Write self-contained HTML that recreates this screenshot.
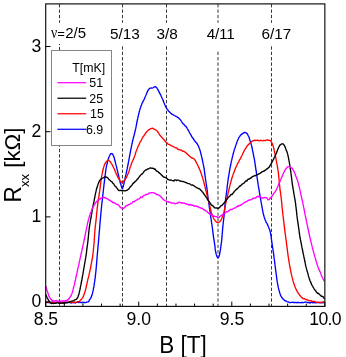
<!DOCTYPE html><html><head><meta charset="utf-8"><style>html,body{margin:0;padding:0;background:#fff}svg{display:block;will-change:transform}text{font-family:"Liberation Sans",sans-serif;fill:#000}</style></head><body>
<svg width="346" height="357" viewBox="0 0 346 357">
<rect width="346" height="357" fill="#fff"/>
<line x1="59.5" y1="4.1" x2="59.5" y2="22.8" stroke="#383838" stroke-width="1.0" stroke-dasharray="3.35 2.0125"/>
<line x1="59.5" y1="46.93" x2="59.5" y2="306" stroke="#383838" stroke-width="1.0" stroke-dasharray="3.35 2.0125"/>
<line x1="122.5" y1="4.1" x2="122.5" y2="22.8" stroke="#383838" stroke-width="1.0" stroke-dasharray="3.35 2.0125"/>
<line x1="122.5" y1="46.33" x2="122.5" y2="306" stroke="#383838" stroke-width="1.0" stroke-dasharray="3.35 2.0125"/>
<line x1="166.5" y1="4.1" x2="166.5" y2="22.8" stroke="#383838" stroke-width="1.0" stroke-dasharray="3.35 2.0125"/>
<line x1="166.5" y1="46.33" x2="166.5" y2="306" stroke="#383838" stroke-width="1.0" stroke-dasharray="3.35 2.0125"/>
<line x1="218.0" y1="4.1" x2="218.0" y2="22.8" stroke="#383838" stroke-width="1.0" stroke-dasharray="3.35 2.0125"/>
<line x1="218.0" y1="51.69" x2="218.0" y2="306" stroke="#383838" stroke-width="1.0" stroke-dasharray="3.35 2.0125"/>
<line x1="271.5" y1="4.1" x2="271.5" y2="22.8" stroke="#383838" stroke-width="1.0" stroke-dasharray="3.35 2.0125"/>
<line x1="271.5" y1="46.33" x2="271.5" y2="306" stroke="#383838" stroke-width="1.0" stroke-dasharray="3.35 2.0125"/>
<line x1="59.5" y1="44.0" x2="59.5" y2="45.0" stroke="#2a2a2a" stroke-width="1"/>
<path d="M45.9 302.3L46.3 302.3L46.7 302.2L47.2 302.5L47.7 302.3L48.2 302.5L48.8 302.5L49.4 302.6L50.1 302.5L50.8 302.4L51.5 302.4L52.2 302.2L52.9 302.2L53.7 302.7L54.5 302.4L55.3 302.6L56.1 302.6L56.9 302.3L57.7 302.4L58.6 302.5L59.4 302.4L60.3 302.3L61.1 302.6L61.9 302.8L62.7 302.5L63.5 302.6L64.3 302.4L65.1 302.5L65.9 302.2L66.6 302.6L67.4 302.9L68.1 302.7L68.7 302.4L69.4 302.2L70.0 302.6L70.8 302.8L71.7 302.9L72.5 302.6L73.3 302.3L74.2 302.8L75.0 302.8L75.8 302.8L76.6 302.2L77.3 302.2L78.1 302.3L78.8 302.5L79.6 302.2L80.3 302.4L81.0 302.5L81.6 302.4L82.3 302.5L82.9 302.3L83.5 302.5L84.1 302.3L84.6 302.5L85.1 302.6L85.6 302.6L86.1 302.5L86.5 302.1L88.0 301.8L88.7 301.4L89.0 301.2L89.1 300.4L89.4 299.9L89.8 299.5L90.2 299.0L90.5 298.5L90.8 297.9L91.2 297.2L91.5 296.3L91.7 295.9L91.9 295.3L92.0 294.8L92.2 294.2L92.4 293.7L92.6 292.9L92.7 292.1L92.9 291.4L93.1 290.7L93.2 289.9L93.4 289.2L93.5 288.6L93.6 287.9L93.7 287.3L93.9 286.7L94.0 286.1L94.1 285.3L94.2 284.6L94.3 283.9L94.4 283.2L94.5 282.5L94.6 281.9L94.7 281.2L94.8 280.4L94.9 279.7L95.0 279.0L95.1 278.3L95.2 277.6L95.3 277.0L95.3 276.3L95.4 275.7L95.5 275.0L95.6 274.3L95.6 273.6L95.7 272.9L95.8 272.2L95.9 271.6L95.9 270.9L96.0 270.2L96.1 269.4L96.1 268.8L96.2 268.0L96.3 267.3L96.3 266.6L96.4 265.9L96.4 265.3L96.5 264.6L96.6 263.8L96.6 263.1L96.7 262.5L96.7 261.7L96.8 261.0L96.8 260.3L96.9 259.6L97.0 258.8L97.0 258.1L97.1 257.4L97.1 256.7L97.2 256.0L97.3 255.3L97.3 254.7L97.4 254.0L97.4 253.3L97.5 252.6L97.6 251.9L97.6 251.2L97.7 250.5L97.7 249.9L97.8 249.2L97.9 248.5L97.9 247.8L98.0 247.1L98.1 246.4L98.1 245.7L98.2 245.0L98.2 244.3L98.3 243.6L98.4 242.9L98.4 242.3L98.5 241.6L98.5 240.9L98.6 240.2L98.6 239.5L98.7 238.9L98.8 238.2L98.8 237.5L98.9 236.8L98.9 236.1L99.0 235.4L99.1 234.7L99.1 234.0L99.2 233.3L99.2 232.7L99.3 232.0L99.3 231.3L99.4 230.6L99.5 229.9L99.5 229.2L99.6 228.5L99.6 227.9L99.7 227.1L99.7 226.4L99.8 225.7L99.9 225.1L99.9 224.4L100.0 223.6L100.0 222.9L100.1 222.3L100.2 221.6L100.2 220.9L100.3 220.3L100.3 219.6L100.4 218.9L100.4 218.3L100.5 217.6L100.6 216.9L100.6 216.2L100.7 215.5L100.8 214.8L100.8 214.1L100.9 213.5L100.9 212.7L101.0 212.1L101.1 211.4L101.1 210.8L101.2 210.1L101.3 209.4L101.3 208.8L101.4 208.1L101.5 207.4L101.5 206.7L101.6 206.0L101.7 205.3L101.7 204.7L101.8 204.0L101.9 203.3L102.0 202.6L102.0 201.9L102.1 201.3L102.2 200.6L102.3 199.9L102.4 199.2L102.4 198.5L102.5 197.8L102.6 197.1L102.7 196.4L102.8 195.7L102.8 194.9L102.9 194.3L103.0 193.6L103.1 192.9L103.2 192.2L103.2 191.5L103.3 190.8L103.4 190.2L103.5 189.4L103.5 188.8L103.6 188.1L103.7 187.4L103.8 186.7L103.9 186.0L103.9 185.3L104.0 184.6L104.1 183.9L104.2 183.3L104.3 182.6L104.3 181.9L104.4 181.3L104.5 180.6L104.6 179.9L104.7 179.1L104.8 178.4L104.9 177.7L104.9 177.0L105.0 176.3L105.1 175.5L105.2 174.8L105.3 174.1L105.4 173.4L105.5 172.7L105.6 172.1L105.6 171.4L105.7 170.8L105.8 170.2L105.9 169.6L106.0 168.9L106.1 168.1L106.3 167.3L106.4 166.6L106.6 165.8L106.7 165.1L106.9 164.5L107.0 163.8L107.2 163.3L107.3 162.7L107.5 162.1L107.6 161.5L107.8 160.7L108.0 160.0L108.2 159.4L108.4 158.6L108.6 158.0L108.8 157.4L109.1 156.8L109.3 156.2L109.7 155.5L110.1 154.7L110.6 153.9L111.1 153.6L111.5 153.7L111.9 153.5L112.4 153.8L112.9 154.7L113.3 155.6L113.7 156.4L113.9 157.1L114.1 157.5L114.3 158.2L114.5 158.9L114.6 159.5L114.8 160.2L115.0 160.9L115.2 161.8L115.4 162.5L115.5 163.0L115.7 163.7L115.9 164.2L116.0 164.9L116.2 165.6L116.3 166.2L116.5 166.8L116.7 167.5L116.8 168.2L117.0 168.9L117.2 169.6L117.3 170.3L117.5 171.1L117.7 171.7L117.8 172.4L118.0 173.0L118.1 173.8L118.3 174.5L118.5 175.4L118.6 176.0L118.8 176.7L119.0 177.5L119.1 178.1L119.3 178.9L119.4 179.4L119.6 180.1L119.7 180.6L120.0 181.6L120.2 182.5L120.4 183.3L120.6 183.8L120.8 184.4L121.0 185.0L121.2 185.6L121.5 186.7L121.8 187.6L122.0 188.2L122.3 188.5L122.6 188.4L122.8 187.6L123.1 186.7L123.4 185.6L123.5 185.2L123.7 184.7L123.8 184.2L124.0 183.5L124.1 182.8L124.3 182.1L124.4 181.4L124.6 180.7L124.8 179.9L124.9 179.3L125.1 178.6L125.2 178.0L125.3 177.3L125.5 176.6L125.6 176.0L125.8 175.2L126.0 174.4L126.1 173.8L126.3 173.1L126.4 172.3L126.6 171.6L126.7 170.8L126.9 170.1L127.0 169.5L127.2 168.7L127.3 168.0L127.4 167.4L127.6 166.7L127.7 166.0L127.9 165.3L128.0 164.6L128.1 164.0L128.3 163.3L128.4 162.6L128.5 162.0L128.7 161.2L128.8 160.6L128.9 159.8L129.0 159.2L129.2 158.6L129.3 157.9L129.4 157.2L129.5 156.5L129.7 155.8L129.8 155.1L129.9 154.4L130.0 153.7L130.2 153.0L130.3 152.4L130.4 151.7L130.6 151.0L130.7 150.3L130.8 149.6L131.0 149.0L131.1 148.2L131.2 147.5L131.4 146.9L131.5 146.3L131.6 145.6L131.8 144.9L131.9 144.2L132.1 143.5L132.2 142.9L132.4 142.2L132.5 141.5L132.7 140.8L132.8 140.0L133.0 139.4L133.1 138.8L133.3 138.2L133.5 137.5L133.6 136.9L133.8 136.3L134.0 135.7L134.2 135.0L134.3 134.3L134.5 133.6L134.7 132.8L134.9 132.3L135.0 131.4L135.2 130.8L135.3 130.1L135.5 129.5L135.6 128.9L135.8 128.2L135.9 127.5L136.1 126.7L136.2 126.0L136.3 125.3L136.5 124.5L136.6 123.8L136.8 123.0L136.9 122.3L137.1 121.6L137.2 120.9L137.3 120.2L137.5 119.5L137.6 118.9L137.8 118.2L137.9 117.5L138.1 116.7L138.3 116.1L138.4 115.4L138.6 114.6L138.7 114.0L138.9 113.2L139.1 112.6L139.2 112.1L139.4 111.5L139.5 110.9L139.7 110.2L139.9 109.4L140.1 108.8L140.4 108.1L140.6 107.4L140.8 106.7L141.0 106.1L141.2 105.6L141.5 104.9L141.7 104.3L141.9 103.9L142.2 103.1L142.5 102.4L142.8 102.0L143.2 101.2L143.5 100.7L143.8 100.1L144.1 99.4L144.4 98.9L144.6 98.4L144.9 97.6L145.1 97.0L145.4 96.5L145.7 95.8L145.9 95.1L146.2 94.5L146.5 93.7L146.8 92.9L147.2 92.4L147.5 91.6L147.8 90.8L148.1 90.3L148.4 89.8L148.9 89.1L149.3 88.5L149.8 88.3L150.5 88.2L151.2 87.9L152.0 88.1L152.8 87.8L153.5 87.5L154.2 86.9L154.9 86.7L155.6 86.9L156.1 87.2L156.6 87.7L157.1 88.4L157.4 88.8L157.8 89.4L158.1 90.2L158.5 90.9L158.8 91.4L159.2 92.1L159.5 92.9L159.8 93.5L160.1 93.9L160.5 94.6L160.8 95.3L161.1 95.9L161.4 96.6L161.7 97.2L162.0 97.9L162.2 98.4L162.5 99.1L162.8 99.7L163.1 100.3L163.3 101.1L163.6 101.7L163.9 102.5L164.1 102.9L164.4 103.6L164.6 104.2L164.9 104.9L165.2 105.6L165.4 106.0L165.7 106.7L166.1 107.4L166.4 108.1L166.7 108.5L167.1 108.9L167.5 109.6L167.9 110.1L168.3 110.8L168.8 111.3L169.3 111.7L169.8 112.4L170.3 112.8L170.8 113.2L171.4 113.8L171.9 114.3L172.5 114.3L173.1 114.7L173.7 115.2L174.3 115.5L175.0 115.8L175.7 116.1L176.4 116.7L177.0 116.8L177.6 117.4L178.2 117.6L178.8 118.2L179.4 118.8L179.8 119.2L180.2 119.7L180.6 120.2L181.0 120.7L181.5 121.5L181.9 122.1L182.4 123.0L182.8 123.5L183.3 123.9L183.8 124.3L184.3 124.9L184.7 125.5L185.2 125.9L185.7 126.1L186.1 126.8L186.5 127.2L186.9 127.9L187.2 128.5L187.6 129.1L187.9 129.7L188.3 130.3L188.6 130.8L189.0 131.5L189.4 132.2L189.7 133.0L190.1 133.6L190.4 134.2L190.8 134.7L191.2 135.4L191.5 136.2L191.9 136.8L192.3 137.5L192.7 137.9L193.1 138.6L193.6 139.1L194.0 139.9L194.4 140.6L194.8 141.0L195.2 141.6L195.7 142.0L196.1 142.5L196.5 142.8L196.9 143.6L197.3 144.0L197.7 144.9L198.0 145.3L198.3 145.5L198.6 146.4L198.8 147.0L199.1 147.6L199.3 148.4L199.6 149.1L199.8 149.7L200.0 150.3L200.2 150.9L200.4 151.6L200.5 152.3L200.7 153.0L200.9 153.6L201.1 154.4L201.2 155.0L201.4 155.7L201.6 156.3L201.7 156.9L201.9 157.7L202.0 158.5L202.2 159.1L202.3 159.8L202.5 160.4L202.6 161.1L202.8 161.8L202.9 162.6L203.0 163.2L203.2 163.8L203.3 164.5L203.4 165.1L203.6 165.7L203.7 166.4L203.8 167.0L204.0 167.8L204.1 168.7L204.2 169.3L204.3 169.9L204.4 170.5L204.5 171.1L204.5 171.8L204.6 172.4L204.7 173.2L204.8 173.9L204.9 174.6L205.0 175.3L205.1 176.0L205.2 176.7L205.3 177.4L205.4 178.2L205.5 178.8L205.6 179.5L205.7 180.2L205.8 180.8L205.9 181.5L206.0 182.1L206.1 182.9L206.2 183.5L206.3 184.2L206.4 184.9L206.5 185.6L206.6 186.3L206.7 187.0L206.8 187.7L206.9 188.3L207.0 188.9L207.1 189.6L207.2 190.3L207.3 191.0L207.3 191.8L207.4 192.5L207.5 193.1L207.6 193.8L207.6 194.5L207.7 195.1L207.8 195.8L207.9 196.4L207.9 197.0L208.0 197.6L208.1 198.4L208.2 199.1L208.3 199.8L208.4 200.3L208.5 201.0L208.6 201.6L208.7 202.3L208.8 203.1L208.9 204.1L209.0 204.6L209.1 205.2L209.2 205.8L209.3 206.5L209.3 207.2L209.4 207.9L209.5 208.6L209.7 209.3L209.8 210.0L209.9 210.7L210.0 211.5L210.1 212.3L210.2 213.0L210.3 213.7L210.4 214.5L210.5 215.2L210.6 215.9L210.7 216.5L210.8 217.2L210.9 217.8L211.0 218.5L211.1 219.2L211.2 219.9L211.3 220.6L211.4 221.3L211.5 222.0L211.6 222.6L211.7 223.3L211.8 224.0L211.9 224.7L212.0 225.4L212.1 226.1L212.2 226.8L212.3 227.5L212.4 228.1L212.5 228.9L212.6 229.6L212.7 230.3L212.7 231.0L212.8 231.7L212.9 232.4L213.0 233.1L213.1 233.8L213.2 234.4L213.3 235.1L213.3 235.7L213.4 236.3L213.5 236.9L213.6 237.7L213.7 238.5L213.9 239.3L214.0 240.0L214.1 240.6L214.2 241.2L214.3 241.9L214.4 242.5L214.5 243.2L214.6 243.9L214.7 244.6L214.8 245.3L214.9 246.0L215.0 246.8L215.1 247.5L215.1 248.2L215.2 248.9L215.3 249.5L215.4 250.2L215.5 250.8L215.6 251.6L215.8 252.4L215.9 253.0L216.1 253.7L216.3 254.3L216.4 254.9L216.6 255.5L216.9 256.3L217.2 257.1L217.6 257.5L217.9 257.7L218.2 257.6L218.6 257.1L219.0 256.4L219.3 255.3L219.5 254.9L219.6 254.3L219.7 253.5L219.9 252.8L220.0 252.1L220.1 251.2L220.3 250.5L220.4 249.7L220.5 249.1L220.6 248.4L220.7 247.6L220.8 247.0L220.9 246.2L221.0 245.4L221.1 244.7L221.2 244.0L221.3 243.4L221.4 242.7L221.5 242.0L221.6 241.3L221.6 240.7L221.7 240.0L221.8 239.4L221.8 238.7L221.9 237.9L222.0 236.9L222.0 236.3L222.1 235.8L222.1 235.2L222.2 234.5L222.2 233.9L222.3 233.2L222.4 232.5L222.4 231.8L222.5 231.1L222.5 230.3L222.6 229.6L222.6 228.9L222.7 228.2L222.8 227.4L222.8 226.7L222.9 226.0L223.0 225.3L223.0 224.7L223.1 224.0L223.2 223.3L223.3 222.6L223.3 222.0L223.4 221.2L223.5 220.6L223.6 219.9L223.7 219.2L223.8 218.5L223.8 217.8L223.9 217.2L224.0 216.4L224.1 215.8L224.1 215.1L224.2 214.5L224.3 213.8L224.3 213.0L224.4 212.3L224.5 211.5L224.5 210.8L224.6 210.1L224.7 209.3L224.7 208.6L224.8 207.9L224.8 207.2L224.9 206.5L224.9 205.9L225.0 205.2L225.0 204.6L225.1 204.0L225.2 203.2L225.3 202.3L225.4 201.6L225.4 200.9L225.5 200.1L225.6 199.5L225.7 198.9L225.7 198.2L225.8 197.6L225.9 197.0L226.0 196.3L226.1 195.6L226.2 195.0L226.3 194.4L226.4 193.7L226.5 193.0L226.6 192.0L226.7 191.4L226.7 190.8L226.8 190.2L226.9 189.5L227.0 188.8L227.1 188.1L227.1 187.3L227.2 186.6L227.3 185.8L227.4 185.0L227.5 184.3L227.6 183.5L227.7 182.7L227.8 182.0L227.9 181.3L228.0 180.6L228.1 179.9L228.2 179.2L228.3 178.5L228.4 177.7L228.5 177.0L228.6 176.3L228.7 175.7L228.9 174.9L229.0 174.2L229.1 173.6L229.2 172.9L229.3 172.3L229.4 171.6L229.5 170.8L229.7 170.1L229.8 169.3L229.9 168.6L230.1 167.8L230.2 167.2L230.4 166.5L230.5 165.8L230.6 165.2L230.8 164.5L230.9 163.9L231.0 163.3L231.2 162.4L231.3 161.6L231.5 160.9L231.7 160.2L231.8 159.6L232.0 159.0L232.1 158.3L232.3 157.4L232.5 156.8L232.6 156.1L232.8 155.4L233.0 154.6L233.2 154.0L233.3 153.4L233.5 152.7L233.7 152.1L233.9 151.3L234.1 150.7L234.3 149.9L234.5 149.3L234.7 148.8L234.9 148.1L235.1 147.4L235.3 146.9L235.5 146.2L235.7 145.6L235.9 144.9L236.2 144.3L236.4 143.7L236.6 143.1L236.8 142.5L237.1 141.7L237.3 141.1L237.6 140.4L237.9 139.8L238.1 139.2L238.4 138.6L238.8 137.7L239.2 137.2L239.6 136.6L240.0 136.0L240.5 135.3L241.0 134.8L241.5 134.2L242.1 134.0L242.6 133.6L243.2 133.2L243.8 132.9L244.3 132.4L244.9 132.4L245.7 132.7L246.4 133.1L246.9 133.4L247.3 133.9L247.8 134.8L248.1 135.5L248.4 136.0L248.7 136.4L248.9 137.0L249.2 137.6L249.4 138.3L249.6 139.1L249.8 139.7L250.0 140.4L250.2 141.0L250.4 141.6L250.6 142.4L250.8 142.9L251.0 143.6L251.1 144.2L251.3 144.8L251.5 145.4L251.6 146.0L251.8 146.7L251.9 147.3L252.1 148.0L252.2 148.6L252.4 149.3L252.5 150.0L252.6 150.7L252.8 151.4L252.9 152.1L253.1 152.8L253.2 153.6L253.4 154.3L253.5 155.0L253.6 155.8L253.8 156.4L253.9 157.1L254.1 157.9L254.2 158.6L254.4 159.3L254.5 160.0L254.6 160.6L254.7 161.3L254.8 161.9L254.9 162.6L255.0 163.2L255.1 163.9L255.2 164.6L255.3 165.3L255.4 166.1L255.5 166.8L255.6 167.4L255.7 168.1L255.8 168.8L255.9 169.6L256.0 170.3L256.2 171.0L256.3 171.8L256.4 172.5L256.5 173.2L256.6 174.0L256.7 174.7L256.8 175.3L256.9 176.0L257.0 176.7L257.1 177.4L257.2 178.1L257.3 178.8L257.4 179.5L257.5 180.1L257.6 180.8L257.7 181.5L257.8 182.2L257.9 182.9L258.0 183.6L258.1 184.1L258.2 184.9L258.3 185.5L258.4 186.2L258.5 186.9L258.6 187.5L258.8 188.2L258.9 188.9L259.0 189.6L259.1 190.2L259.2 190.8L259.3 191.6L259.4 192.2L259.5 192.9L259.7 193.6L259.8 194.3L259.9 194.9L260.0 195.6L260.1 196.3L260.2 197.0L260.4 197.7L260.5 198.3L260.6 199.0L260.7 199.6L260.8 200.3L261.0 201.1L261.1 201.8L261.2 202.5L261.3 203.2L261.5 204.0L261.6 204.6L261.7 205.4L261.8 206.1L262.0 206.8L262.1 207.4L262.2 208.2L262.4 208.9L262.5 209.6L262.6 210.4L262.7 211.1L262.9 211.8L263.0 212.4L263.1 213.1L263.3 213.8L263.4 214.3L263.6 214.9L263.8 215.8L264.0 216.4L264.2 217.2L264.5 217.8L264.7 218.5L264.9 219.2L265.2 219.8L265.4 220.4L265.7 221.0L266.0 221.8L266.3 222.3L266.6 223.0L267.0 223.6L267.3 224.1L267.6 224.9L267.9 225.5L268.2 226.1L268.5 227.0L268.8 227.6L269.0 228.2L269.3 228.8L269.5 229.6L269.8 230.3L270.0 231.1L270.2 231.8L270.4 232.5L270.5 233.1L270.6 233.8L270.8 234.5L270.9 235.2L271.0 236.0L271.1 236.7L271.2 237.5L271.3 238.1L271.4 238.8L271.5 239.5L271.6 240.3L271.7 241.0L271.8 241.7L271.9 242.5L272.0 243.2L272.1 244.0L272.2 244.7L272.3 245.4L272.4 246.2L272.5 246.9L272.6 247.6L272.8 248.3L272.9 249.0L273.0 249.8L273.1 250.5L273.2 251.2L273.3 251.9L273.4 252.6L273.5 253.3L273.6 253.9L273.7 254.6L273.8 255.3L273.9 255.9L273.9 256.5L274.0 257.2L274.1 257.8L274.2 258.5L274.3 259.2L274.4 259.9L274.5 260.5L274.5 261.1L274.6 261.8L274.7 262.5L274.8 263.2L274.9 263.9L275.0 264.7L275.1 265.3L275.2 266.0L275.3 266.7L275.3 267.4L275.4 268.1L275.5 268.9L275.6 269.6L275.7 270.3L275.8 271.1L275.9 271.9L276.0 272.6L276.1 273.3L276.2 273.9L276.3 274.6L276.4 275.3L276.5 276.0L276.5 276.7L276.6 277.4L276.7 278.1L276.8 278.7L276.9 279.4L277.0 280.1L277.1 280.7L277.2 281.4L277.3 282.0L277.4 282.8L277.6 283.6L277.7 284.3L277.8 285.1L278.0 285.7L278.1 286.5L278.2 287.2L278.4 287.9L278.5 288.5L278.7 289.2L278.9 289.9L279.1 290.6L279.3 291.2L279.5 291.9L279.7 292.6L279.9 293.3L280.1 293.9L280.3 294.5L280.5 295.1L280.8 295.7L281.1 296.4L281.5 296.8L281.8 297.5L282.2 298.0L282.6 298.4L283.1 299.2L283.7 299.4L284.3 300.1L284.9 300.7L285.5 301.0L286.1 301.0L286.8 301.6L287.5 301.8L288.2 301.8L289.1 302.4L289.7 302.5L290.2 302.6L290.7 302.6L291.3 302.5L291.9 302.2L292.7 302.3L293.7 302.5L294.9 302.4L295.4 302.5L295.9 302.6L296.5 302.7L297.1 302.3L297.7 302.7L298.4 302.4L299.0 302.5L299.7 302.6L300.4 302.7L301.2 302.7L301.9 302.4L302.7 302.5L303.4 302.6L304.2 302.3L304.9 302.0L305.7 302.1L306.4 302.1L307.2 302.3L307.9 302.8L308.6 302.5L309.3 302.7L310.0 303.1L310.7 302.7L311.5 302.4L312.2 302.4L313.0 302.8L313.8 302.6L314.6 302.6L315.4 302.8L316.2 302.8L317.0 302.5L317.8 302.5L318.5 302.6L319.3 302.7L320.0 302.8L320.7 302.7L321.4 302.4L322.0 302.9L322.6 302.6L323.1 302.4L323.6 302.7L324.0 302.6L324.4 302.3" fill="none" stroke="#0000ff" stroke-width="1.35" stroke-linejoin="round"/>
<path d="M45.9 302.1L46.3 301.9L46.7 301.9L47.2 302.0L47.8 302.3L48.4 302.2L49.0 302.2L49.7 302.6L50.4 302.6L51.2 302.7L51.9 302.1L52.7 302.6L53.5 302.4L54.3 302.8L55.2 302.7L56.0 302.4L56.8 302.3L57.6 302.4L58.4 302.3L59.2 302.5L60.0 301.7L60.7 302.0L61.4 302.1L62.1 302.6L62.9 302.3L63.6 302.5L64.4 302.4L65.2 302.9L66.0 302.7L66.8 302.4L67.6 302.3L68.4 301.9L69.2 302.1L70.0 302.0L70.7 302.5L71.5 302.7L72.2 302.2L72.9 302.3L73.6 302.4L74.2 302.2L74.8 302.2L75.3 302.5L75.8 302.6L76.3 302.3L77.7 301.7L78.5 301.7L79.0 301.6L79.3 301.5L79.6 301.2L80.0 300.9L80.4 300.4L80.9 299.7L81.3 299.4L81.7 299.0L82.0 298.6L82.4 297.9L82.8 297.3L83.1 296.8L83.3 296.3L83.6 295.6L83.8 295.0L84.1 294.4L84.3 293.7L84.6 293.1L84.8 292.3L85.1 291.5L85.3 290.5L85.5 290.1L85.6 289.4L85.8 288.9L85.9 288.3L86.1 287.6L86.2 287.0L86.4 286.3L86.5 285.5L86.7 284.8L86.8 284.1L87.0 283.4L87.1 282.8L87.3 282.1L87.4 281.4L87.6 280.7L87.7 280.0L87.9 279.2L88.1 278.6L88.2 277.9L88.4 277.4L88.6 276.7L88.7 275.9L88.9 275.2L89.1 274.4L89.2 273.6L89.4 273.0L89.6 272.4L89.7 271.7L89.9 271.1L90.0 270.4L90.2 269.6L90.3 269.0L90.5 268.3L90.6 267.5L90.8 266.8L90.9 266.0L91.0 265.3L91.2 264.6L91.3 263.7L91.5 263.0L91.6 262.2L91.7 261.6L91.8 261.0L91.9 260.4L92.0 259.9L92.1 259.4L92.2 259.0L92.4 257.9L92.5 257.6L92.6 257.2L92.7 256.0L92.8 255.5L92.8 255.1L92.9 254.5L92.9 253.9L93.0 253.3L93.1 252.7L93.2 251.9L93.2 251.2L93.3 250.5L93.4 249.7L93.5 248.9L93.6 248.2L93.6 247.4L93.7 246.6L93.8 245.8L93.9 245.0L93.9 244.3L94.0 243.6L94.1 242.9L94.1 242.3L94.2 241.6L94.2 240.9L94.3 240.2L94.3 239.5L94.3 238.9L94.4 238.2L94.4 237.5L94.5 236.8L94.5 236.1L94.5 235.4L94.6 234.7L94.6 234.0L94.7 233.4L94.7 232.6L94.8 232.0L94.8 231.3L94.9 230.7L95.0 229.9L95.0 229.2L95.1 228.5L95.2 227.8L95.2 227.2L95.3 226.4L95.4 225.7L95.5 225.1L95.5 224.3L95.6 223.6L95.7 223.0L95.8 222.3L95.9 221.6L95.9 220.9L96.0 220.3L96.1 219.6L96.2 218.9L96.2 218.3L96.3 217.6L96.4 216.9L96.4 216.2L96.5 215.5L96.6 214.8L96.6 214.1L96.7 213.5L96.8 212.8L96.8 212.2L96.9 211.5L97.0 210.9L97.0 210.2L97.1 209.6L97.2 208.9L97.2 208.2L97.3 207.4L97.4 206.7L97.5 206.0L97.6 205.3L97.7 204.7L97.8 204.1L97.8 203.4L97.9 202.7L98.0 202.0L98.1 201.4L98.2 200.7L98.3 200.0L98.4 199.3L98.5 198.6L98.6 198.0L98.8 197.2L98.9 196.5L99.0 195.7L99.1 195.0L99.2 194.3L99.3 193.6L99.4 192.8L99.5 192.1L99.6 191.4L99.7 190.7L99.8 190.1L99.9 189.4L100.0 188.7L100.1 187.9L100.2 187.1L100.3 186.4L100.4 185.7L100.4 185.0L100.5 184.2L100.6 183.5L100.7 182.7L100.8 182.1L100.9 181.3L101.0 180.6L101.1 179.9L101.2 179.2L101.3 178.6L101.4 178.0L101.5 177.4L101.6 176.7L101.7 176.2L101.9 175.3L102.0 174.4L102.2 173.7L102.3 172.9L102.5 172.2L102.6 171.5L102.8 170.8L102.9 170.1L103.0 169.7L103.2 169.1L103.3 168.4L103.5 167.9L103.6 167.3L103.8 166.7L104.1 165.9L104.3 165.2L104.6 164.5L104.9 163.9L105.2 163.4L105.4 162.8L105.7 162.4L106.0 162.2L106.6 161.5L107.1 160.9L107.7 160.3L108.2 160.3L108.7 159.9L109.2 160.7L109.7 161.2L110.3 161.8L110.6 162.3L111.0 162.7L111.3 163.3L111.7 164.0L112.1 164.7L112.5 165.5L112.8 166.2L113.2 166.9L113.5 167.3L113.8 168.0L114.1 168.6L114.4 169.3L114.7 170.0L114.9 170.6L115.2 171.4L115.5 172.2L115.8 172.8L116.1 173.6L116.4 174.2L116.7 174.7L117.1 175.3L117.4 176.1L117.7 177.0L118.0 177.4L118.4 178.0L118.7 178.4L119.0 179.0L119.5 179.7L120.0 180.6L120.5 181.4L120.9 181.7L121.4 181.9L121.9 182.7L122.5 182.3L123.0 181.6L123.6 181.4L124.2 180.5L124.8 179.7L125.1 179.4L125.5 178.9L125.8 178.3L126.1 177.8L126.5 177.1L126.8 176.5L127.2 175.7L127.5 174.8L127.9 174.2L128.2 173.4L128.4 172.6L128.7 172.1L128.9 171.4L129.1 170.9L129.3 170.1L129.6 169.2L129.8 168.6L130.0 167.8L130.2 167.1L130.5 166.5L130.7 165.8L130.9 165.3L131.1 164.7L131.3 164.1L131.6 163.1L131.9 162.5L132.2 161.7L132.5 161.1L132.8 160.4L133.1 159.9L133.4 159.4L133.7 158.9L134.0 157.8L134.2 157.3L134.4 156.8L134.6 156.1L134.9 155.4L135.1 154.8L135.3 154.1L135.5 153.4L135.7 152.8L135.9 152.0L136.1 151.3L136.4 150.7L136.6 150.2L136.9 149.4L137.2 148.7L137.4 148.1L137.7 147.3L138.0 146.4L138.4 145.8L138.7 145.4L139.0 144.8L139.2 144.0L139.5 143.4L139.8 142.8L140.1 142.1L140.5 141.4L140.8 141.0L141.1 140.6L141.4 140.0L141.7 139.3L142.0 138.7L142.4 138.0L142.8 137.4L143.1 136.8L143.5 136.2L143.9 135.9L144.3 135.1L144.7 134.7L145.1 133.8L145.6 133.2L146.0 132.8L146.5 132.1L147.0 131.6L147.5 130.9L148.1 130.5L148.6 129.9L149.1 129.4L149.7 129.3L150.2 129.0L150.9 128.6L151.6 128.5L152.3 128.2L152.9 128.4L153.6 128.9L154.2 129.1L154.9 129.4L155.5 129.9L156.1 130.1L156.7 130.7L157.3 131.1L157.7 132.0L158.2 132.2L158.6 133.0L159.1 133.8L159.5 134.7L160.0 135.2L160.4 135.8L160.8 136.2L161.3 136.6L161.7 137.3L162.2 137.8L162.6 138.3L163.1 138.8L163.5 139.5L163.9 139.6L164.4 140.0L164.8 140.6L165.2 141.3L165.6 141.7L166.1 142.4L166.6 142.7L167.1 143.1L167.7 143.8L168.3 144.3L168.9 144.3L169.5 144.8L170.1 144.9L170.8 145.4L171.4 145.8L172.0 146.1L172.7 146.2L173.3 146.6L174.0 147.0L174.7 147.4L175.3 147.8L176.0 147.9L176.7 147.8L177.3 148.9L178.0 149.3L178.6 149.5L179.3 149.6L179.9 150.0L180.6 150.1L181.2 149.9L181.8 150.5L182.4 151.1L183.0 151.5L183.6 151.1L184.2 151.4L184.8 152.0L185.4 152.4L186.0 152.8L186.5 153.4L187.0 153.7L187.6 154.4L188.1 154.8L188.6 155.2L189.1 155.7L189.6 156.2L190.0 156.5L190.5 156.9L191.2 157.5L191.8 158.1L192.5 158.0L193.0 158.3L193.6 158.7L194.1 158.8L194.6 159.7L195.1 160.2L195.5 160.7L195.8 161.4L196.2 162.2L196.5 162.9L196.8 163.2L197.0 163.8L197.3 164.3L197.7 165.1L197.9 165.5L198.2 166.0L198.4 166.7L198.7 167.5L199.0 167.9L199.3 168.7L199.6 169.5L199.9 170.1L200.2 170.8L200.5 171.5L200.7 172.2L200.9 172.8L201.2 173.4L201.4 174.1L201.6 174.7L201.8 175.3L202.0 175.9L202.3 176.7L202.5 177.5L202.7 178.1L202.9 178.9L203.1 179.5L203.3 180.2L203.5 180.8L203.7 181.5L203.8 182.2L204.0 182.8L204.2 183.5L204.4 184.2L204.5 185.0L204.7 185.6L204.8 186.2L205.0 186.9L205.2 187.6L205.3 188.3L205.5 188.8L205.7 189.7L205.8 190.3L206.0 191.0L206.2 191.6L206.4 192.4L206.5 193.1L206.7 193.7L206.9 194.5L207.1 195.2L207.2 195.7L207.4 196.4L207.5 197.1L207.7 197.7L207.9 198.3L208.1 199.1L208.3 199.8L208.5 200.4L208.6 200.9L208.8 201.7L209.0 202.4L209.2 203.1L209.3 203.8L209.5 204.4L209.7 205.1L209.8 205.9L210.0 206.7L210.1 207.3L210.3 208.1L210.4 208.8L210.6 209.4L210.8 210.2L210.9 211.0L211.1 211.7L211.3 212.3L211.5 212.9L211.8 213.7L212.0 214.3L212.2 214.9L212.5 215.5L212.7 216.1L213.0 216.8L213.2 217.3L213.6 218.2L213.9 218.8L214.3 219.5L214.7 219.8L215.0 220.3L215.4 220.9L216.0 221.5L216.5 222.1L217.1 222.4L217.6 222.4L218.3 222.3L219.0 222.2L219.7 221.8L220.1 221.1L220.4 220.9L220.8 220.2L221.2 219.6L221.5 219.0L221.9 218.1L222.1 217.6L222.3 217.0L222.6 216.3L222.8 215.6L223.0 215.2L223.3 214.5L223.5 213.9L223.7 213.1L223.9 212.4L224.1 211.6L224.2 211.1L224.4 210.4L224.5 209.7L224.7 209.0L224.8 208.3L224.9 207.5L225.1 206.9L225.2 206.2L225.3 205.4L225.4 204.8L225.6 204.2L225.7 203.5L225.8 202.9L226.0 202.2L226.1 201.3L226.3 200.7L226.5 200.2L226.6 199.4L226.8 198.8L226.9 198.3L227.1 197.7L227.2 197.0L227.4 196.3L227.5 195.6L227.7 194.8L227.9 194.3L228.0 193.6L228.2 192.7L228.4 191.9L228.5 191.4L228.7 190.8L228.8 190.1L229.0 189.3L229.2 188.8L229.3 188.1L229.5 187.2L229.6 186.5L229.8 186.0L230.0 185.1L230.2 184.4L230.3 183.8L230.5 183.2L230.7 182.6L230.8 182.0L231.0 181.3L231.2 180.6L231.4 180.0L231.6 179.1L231.8 178.6L232.0 178.1L232.2 177.3L232.4 176.6L232.6 176.0L232.9 175.3L233.1 174.6L233.3 173.8L233.6 173.2L233.8 172.5L234.1 172.0L234.3 171.3L234.6 170.5L234.9 169.9L235.2 169.1L235.4 168.5L235.7 167.8L236.0 167.1L236.4 166.3L236.7 165.8L237.0 165.1L237.2 164.4L237.5 163.9L237.8 163.4L238.2 162.7L238.5 162.2L238.9 161.7L239.2 160.6L239.5 159.9L239.8 159.7L240.1 159.1L240.4 158.7L240.8 157.9L241.1 157.1L241.4 156.7L241.7 156.0L242.0 155.5L242.3 154.8L242.6 154.2L242.9 153.4L243.2 152.8L243.6 152.1L243.9 151.5L244.2 150.9L244.5 150.1L244.8 149.7L245.2 149.0L245.5 148.5L245.9 148.2L246.2 147.4L246.6 146.7L247.1 146.2L247.5 145.4L247.9 145.2L248.4 144.6L248.8 144.4L249.3 143.6L249.8 143.1L250.4 143.0L250.9 142.3L251.4 141.8L252.0 141.3L252.7 140.9L253.3 140.6L254.0 140.7L254.7 140.1L255.5 140.5L256.2 140.3L257.0 140.2L257.8 140.6L258.5 140.4L259.3 140.8L260.0 140.7L260.7 140.1L261.4 140.5L262.1 140.8L262.8 140.6L263.5 140.3L264.3 140.5L265.0 140.6L265.7 140.5L266.4 140.1L267.1 139.9L267.8 140.0L268.4 140.4L269.2 140.2L269.9 140.5L270.5 140.7L270.9 141.5L271.3 142.0L271.7 142.4L272.0 143.1L272.3 143.6L272.5 144.1L272.8 144.9L273.0 145.5L273.3 146.5L273.5 147.1L273.6 147.7L273.8 148.3L273.9 149.0L274.1 149.7L274.2 150.4L274.4 151.0L274.5 151.8L274.7 152.5L274.8 153.2L275.0 153.8L275.1 154.5L275.3 155.1L275.4 155.9L275.5 156.6L275.7 157.4L275.8 158.0L276.0 158.8L276.1 159.5L276.2 160.2L276.4 160.8L276.5 161.5L276.6 162.2L276.7 162.9L276.9 163.6L277.0 164.2L277.1 164.9L277.3 165.5L277.4 166.3L277.5 166.9L277.6 167.6L277.7 168.2L277.8 169.0L277.9 169.6L278.0 170.2L278.1 170.7L278.2 171.4L278.3 172.1L278.3 172.7L278.4 173.4L278.5 174.1L278.6 174.9L278.7 175.5L278.7 176.1L278.8 176.8L278.8 177.4L278.9 178.1L279.0 178.7L279.0 179.4L279.1 180.2L279.2 180.9L279.2 181.6L279.3 182.4L279.3 183.1L279.4 183.8L279.5 184.5L279.6 185.2L279.6 185.9L279.7 186.6L279.8 187.2L279.9 187.9L279.9 188.6L280.0 189.3L280.1 190.0L280.2 190.6L280.3 191.3L280.4 192.0L280.5 192.7L280.6 193.4L280.7 194.0L280.8 194.6L280.9 195.3L280.9 196.1L281.0 196.8L281.1 197.4L281.2 198.1L281.3 198.8L281.4 199.5L281.4 200.2L281.5 200.9L281.6 201.6L281.7 202.3L281.7 203.1L281.8 203.7L281.9 204.4L281.9 205.1L282.0 205.9L282.1 206.6L282.1 207.2L282.2 207.9L282.3 208.5L282.3 209.2L282.4 209.8L282.5 210.6L282.6 211.3L282.6 212.0L282.7 212.7L282.8 213.4L282.9 214.1L282.9 214.7L283.0 215.4L283.1 216.0L283.2 216.6L283.2 217.3L283.3 218.0L283.4 218.6L283.5 219.2L283.6 219.9L283.6 220.6L283.7 221.3L283.8 221.9L283.9 222.6L283.9 223.3L284.0 223.9L284.1 224.6L284.2 225.3L284.2 225.9L284.3 226.6L284.4 227.3L284.5 228.0L284.6 228.7L284.7 229.4L284.8 230.1L284.8 230.8L284.9 231.4L285.0 232.2L285.1 232.9L285.2 233.6L285.3 234.4L285.4 235.1L285.5 235.8L285.6 236.5L285.7 237.2L285.8 237.9L285.9 238.6L286.0 239.3L286.1 240.1L286.2 240.7L286.3 241.4L286.4 242.1L286.4 242.8L286.5 243.5L286.6 244.2L286.7 244.9L286.8 245.5L286.9 246.3L287.0 247.0L287.1 247.8L287.2 248.5L287.3 249.2L287.4 250.0L287.5 250.7L287.5 251.4L287.6 252.1L287.7 252.7L287.8 253.4L287.9 254.2L288.0 254.9L288.1 255.6L288.2 256.3L288.3 256.9L288.4 257.7L288.5 258.3L288.6 259.0L288.7 259.7L288.8 260.3L288.9 261.0L289.0 261.7L289.1 262.4L289.2 263.2L289.4 263.9L289.5 264.7L289.6 265.3L289.7 266.0L289.9 266.6L290.0 267.3L290.1 268.0L290.3 268.8L290.4 269.6L290.5 270.3L290.7 271.0L290.8 271.7L291.0 272.4L291.1 273.1L291.3 273.7L291.5 274.5L291.6 275.2L291.8 275.9L292.0 276.5L292.1 277.4L292.3 278.1L292.5 278.8L292.6 279.5L292.8 280.0L293.0 280.7L293.2 281.2L293.4 282.0L293.6 282.6L293.8 283.3L294.0 284.1L294.3 284.7L294.5 285.2L294.7 285.7L295.0 286.4L295.2 287.2L295.5 287.9L295.8 288.6L296.1 289.2L296.4 289.9L296.8 290.6L297.1 291.1L297.4 292.0L297.8 292.5L298.1 292.9L298.5 293.5L299.0 294.1L299.5 294.8L299.9 295.7L300.4 295.9L300.8 296.4L301.3 296.9L301.8 297.7L302.3 297.7L302.8 298.5L303.4 298.6L303.9 298.8L304.5 298.7L305.1 299.2L305.8 299.4L306.5 299.7L307.2 300.1L307.9 300.0L308.5 300.6L309.2 300.7L309.9 300.8L310.6 300.7L311.3 300.8L312.0 301.4L312.7 301.5L313.4 301.4L314.1 301.4L314.8 301.4L315.6 302.3L316.3 302.3L317.0 302.2L317.8 302.3L318.5 302.2L319.3 302.5L320.0 302.5L320.7 302.4L321.5 302.6L322.4 302.1L323.2 302.0L323.9 302.1L324.4 302.1" fill="none" stroke="#ff0000" stroke-width="1.35" stroke-linejoin="round"/>
<path d="M45.9 294.3L46.1 295.1L46.3 295.8L46.6 296.4L46.9 297.3L47.2 298.2L47.6 298.7L48.0 299.2L48.5 300.3L48.9 300.7L49.3 301.5L49.6 301.8L50.1 302.4L50.7 303.1L51.3 303.5L51.9 303.3L52.7 303.4L53.4 303.5L54.2 303.3L55.0 303.3L55.7 303.3L56.3 303.0L57.0 302.8L57.8 302.6L58.5 302.9L59.2 303.5L60.0 303.4L60.6 303.3L61.3 303.2L62.0 303.0L62.7 303.2L63.4 303.0L64.1 303.5L64.8 302.5L65.4 302.9L66.0 302.9L66.9 302.4L67.6 302.4L68.3 302.3L68.9 302.4L69.5 301.9L70.3 301.8L71.0 301.4L71.7 301.1L72.4 301.0L73.0 300.9L73.7 300.9L74.3 300.3L74.9 299.9L75.5 299.7L76.1 299.3L76.6 299.2L77.1 298.1L77.6 297.8L77.9 297.1L78.1 296.6L78.3 296.1L78.5 295.2L78.8 294.7L79.0 293.8L79.2 292.9L79.3 292.3L79.5 291.8L79.6 291.2L79.7 290.7L79.9 289.9L80.0 289.3L80.2 288.5L80.3 287.8L80.4 287.1L80.6 286.4L80.7 285.7L80.8 285.0L81.0 284.4L81.1 283.6L81.2 283.0L81.4 282.3L81.5 281.6L81.6 281.0L81.8 280.3L81.9 279.6L82.0 278.9L82.2 278.0L82.3 277.4L82.4 276.7L82.5 276.0L82.6 275.5L82.8 274.9L82.9 274.2L83.0 273.4L83.1 272.8L83.2 272.0L83.3 271.4L83.4 270.7L83.6 270.0L83.7 269.3L83.8 268.6L83.9 267.9L84.0 267.3L84.2 266.4L84.3 265.8L84.4 264.9L84.6 264.2L84.7 263.4L84.8 262.7L85.0 261.9L85.1 261.2L85.2 260.5L85.3 259.9L85.4 259.4L85.5 258.9L85.7 258.0L85.7 257.7L85.8 257.4L86.0 256.0L86.1 255.5L86.1 255.1L86.2 254.5L86.3 253.9L86.4 253.3L86.5 252.6L86.5 252.0L86.6 251.2L86.7 250.5L86.8 249.7L86.9 249.0L87.0 248.2L87.1 247.4L87.2 246.7L87.3 245.9L87.4 245.1L87.5 244.3L87.6 243.6L87.7 242.9L87.8 242.1L87.9 241.4L88.0 240.7L88.0 240.1L88.1 239.4L88.2 238.7L88.2 238.0L88.3 237.3L88.4 236.6L88.4 235.8L88.5 235.2L88.6 234.5L88.6 233.8L88.7 233.1L88.8 232.4L88.8 231.7L88.9 231.0L89.0 230.4L89.1 229.7L89.1 229.0L89.2 228.4L89.3 227.7L89.4 227.0L89.5 226.3L89.6 225.5L89.7 224.8L89.8 224.1L90.0 223.4L90.1 222.6L90.2 221.9L90.3 221.1L90.5 220.5L90.6 219.8L90.7 219.1L90.8 218.5L91.0 217.8L91.1 217.1L91.2 216.5L91.3 215.9L91.4 215.3L91.5 214.7L91.6 213.9L91.8 213.0L91.9 212.3L92.0 211.5L92.2 210.9L92.3 210.2L92.4 209.5L92.5 208.8L92.6 208.2L92.7 207.6L92.8 207.1L92.9 206.5L93.0 206.0L93.2 205.2L93.3 204.5L93.4 204.1L93.5 203.6L93.7 203.0L93.8 202.3L94.0 201.4L94.1 200.9L94.2 200.4L94.3 199.7L94.4 199.1L94.6 198.5L94.7 197.7L94.8 196.9L95.0 196.3L95.1 195.5L95.2 194.8L95.4 194.2L95.5 193.4L95.7 192.8L95.8 192.1L96.0 191.4L96.2 190.6L96.3 189.9L96.5 189.2L96.7 188.5L96.9 187.8L97.1 187.2L97.3 186.6L97.5 185.9L97.7 185.4L97.9 184.7L98.1 184.3L98.4 183.4L98.7 182.6L99.0 181.8L99.3 181.3L99.5 180.7L99.9 180.2L100.2 180.1L100.7 179.2L101.3 179.0L102.0 178.2L102.6 178.1L103.1 178.0L103.9 177.5L104.5 176.9L105.3 177.0L105.8 176.9L106.4 177.0L107.0 177.4L107.6 177.9L108.2 178.3L108.7 179.1L109.2 179.7L109.8 180.1L110.3 180.3L110.7 180.9L111.1 181.3L111.5 181.5L112.0 181.9L112.3 182.6L112.7 182.9L113.2 183.7L113.7 183.8L114.2 184.8L114.7 185.6L115.1 186.1L115.6 186.5L116.1 187.0L116.6 187.6L117.1 188.3L117.5 188.9L118.1 189.8L118.6 190.3L119.3 190.6L119.8 190.4L120.5 190.4L121.1 190.7L121.8 190.3L122.5 190.3L123.2 190.5L124.0 190.9L124.7 190.8L125.4 190.8L126.0 190.5L126.7 190.4L127.2 190.2L127.8 189.7L128.2 189.4L128.7 189.0L129.2 188.5L129.7 187.7L130.2 187.0L130.7 186.4L131.1 186.0L131.6 185.6L132.1 185.1L132.5 184.2L133.0 183.4L133.4 183.5L133.9 182.6L134.4 182.3L134.9 181.5L135.5 181.5L136.0 180.9L136.5 180.2L137.0 179.6L137.5 179.0L138.0 178.8L138.4 177.8L138.9 177.5L139.4 176.7L140.0 175.9L140.4 175.6L140.9 174.8L141.3 174.3L141.8 174.0L142.3 174.0L142.8 173.2L143.3 172.8L143.7 171.9L144.2 171.3L144.8 170.8L145.4 170.1L146.0 169.8L146.6 169.9L147.2 169.3L147.8 168.9L148.3 169.0L149.1 168.5L149.9 168.0L150.6 167.9L151.4 168.1L152.0 168.3L152.6 168.1L153.3 168.4L153.9 168.7L154.6 169.4L155.1 169.0L155.6 170.0L156.1 170.3L156.6 171.0L157.1 171.4L157.6 171.3L158.2 171.8L158.7 172.5L159.2 172.7L159.7 173.4L160.3 173.6L160.8 174.2L161.3 174.7L161.9 175.5L162.4 175.6L162.9 176.5L163.5 177.0L164.1 177.0L164.7 177.4L165.2 177.4L165.8 177.8L166.4 177.9L167.0 178.4L167.7 179.5L168.4 179.5L169.1 180.1L169.8 180.2L170.5 180.0L171.2 180.2L171.8 180.4L172.5 180.6L173.2 180.7L173.9 181.1L174.6 179.9L175.3 179.9L176.0 180.1L176.7 180.6L177.3 180.1L178.0 180.1L178.7 180.1L179.4 180.9L180.1 181.0L180.7 181.0L181.3 181.3L182.1 181.3L182.9 181.5L183.5 181.7L184.2 182.0L184.9 182.1L185.6 182.3L186.3 182.6L187.1 183.2L187.8 183.5L188.5 183.6L189.1 183.7L189.7 183.8L190.3 184.3L190.9 184.7L191.5 185.1L192.1 185.1L192.7 184.9L193.3 185.4L193.9 185.7L194.5 186.3L195.1 186.7L195.7 186.8L196.3 187.6L197.0 187.8L197.6 188.0L198.2 188.3L198.8 188.6L199.4 189.0L199.9 189.0L200.4 189.8L200.8 190.2L201.2 190.5L201.7 191.0L202.2 191.7L202.6 192.1L203.0 192.6L203.4 193.3L203.9 193.9L204.3 194.7L204.7 195.2L205.2 195.8L205.6 196.4L206.0 197.0L206.4 197.6L206.8 198.2L207.2 198.9L207.6 199.6L208.0 200.1L208.4 200.7L208.7 201.2L209.1 201.6L209.6 202.5L210.1 203.1L210.6 203.5L211.0 204.7L211.5 204.9L212.0 205.4L212.6 205.4L213.2 206.4L213.7 206.7L214.3 207.7L214.9 208.0L215.6 207.8L216.4 207.8L217.1 208.2L217.8 208.2L218.4 208.3L219.0 207.9L219.5 207.6L220.1 206.8L220.7 206.1L221.2 205.6L221.7 205.6L222.1 205.3L222.6 204.6L223.1 204.0L223.6 203.7L224.0 203.3L224.4 202.3L224.8 201.8L225.3 201.6L225.7 201.3L226.1 200.5L226.5 199.8L226.9 199.1L227.3 198.9L227.7 198.3L228.1 197.5L228.6 197.1L229.0 196.9L229.4 196.3L229.9 196.0L230.4 195.3L230.9 194.7L231.4 194.4L232.0 194.6L232.5 193.9L233.0 193.2L233.5 192.9L234.0 191.9L234.5 191.2L235.0 190.8L235.5 190.3L236.1 189.8L236.6 189.0L237.0 189.0L237.5 188.6L238.0 187.8L238.5 187.6L239.0 187.0L239.5 186.2L240.0 186.3L240.5 185.9L241.0 185.3L241.6 184.9L242.1 184.1L242.7 183.9L243.2 183.5L243.7 183.3L244.3 182.7L244.8 182.1L245.4 181.4L246.1 180.9L246.8 181.1L247.4 179.9L248.0 179.3L248.6 179.0L249.1 179.3L249.8 178.8L250.2 178.1L250.7 177.9L251.3 178.0L251.8 177.2L252.4 176.6L253.0 176.5L253.6 176.1L254.3 175.8L254.9 175.6L255.5 175.7L256.1 175.0L256.7 174.7L257.3 174.8L257.9 174.6L258.5 174.0L259.1 173.9L259.7 173.5L260.3 173.1L261.0 172.7L261.5 172.4L262.1 171.7L262.7 171.6L263.3 171.3L263.9 171.3L264.4 170.4L265.0 170.6L265.6 170.1L266.2 169.5L266.8 168.8L267.4 168.8L267.9 168.4L268.4 167.7L268.8 167.4L269.3 166.9L269.7 165.9L270.1 165.5L270.5 165.1L270.8 164.3L271.2 163.7L271.5 162.8L271.9 162.4L272.2 161.7L272.5 161.2L272.8 160.5L273.1 159.8L273.5 159.6L273.8 158.6L274.1 157.8L274.4 157.2L274.7 156.8L275.0 156.2L275.3 155.3L275.6 154.9L275.9 154.3L276.2 153.4L276.5 153.1L276.7 152.3L277.0 151.6L277.2 151.0L277.5 150.2L277.7 149.5L278.0 148.9L278.2 148.4L278.5 147.7L278.8 147.0L279.1 146.6L279.4 146.0L279.7 145.4L280.0 145.0L280.6 144.8L281.2 144.2L281.8 143.9L282.4 143.8L283.0 143.9L283.5 144.3L284.0 145.0L284.4 145.5L284.8 146.4L285.0 146.9L285.3 147.4L285.5 148.1L285.7 148.7L286.0 149.6L286.2 150.1L286.5 150.7L286.7 151.1L287.0 152.1L287.3 152.7L287.5 153.5L287.7 154.1L287.8 154.7L288.0 155.4L288.1 156.0L288.2 156.6L288.4 157.5L288.5 158.1L288.7 158.8L288.8 159.6L288.9 160.1L289.0 160.8L289.1 161.4L289.3 162.0L289.4 162.7L289.5 163.4L289.6 164.1L289.7 164.7L289.8 165.4L289.9 166.1L290.0 166.8L290.1 167.4L290.2 167.9L290.3 168.6L290.4 169.1L290.5 169.8L290.6 170.5L290.7 171.1L290.8 171.9L290.9 172.6L291.0 173.4L291.1 174.0L291.2 174.6L291.2 175.3L291.3 176.0L291.4 176.7L291.5 177.4L291.6 178.1L291.7 178.9L291.8 179.6L291.9 180.2L291.9 181.0L292.0 181.7L292.1 182.4L292.2 183.1L292.3 183.7L292.4 184.5L292.5 185.2L292.6 186.0L292.8 186.7L292.9 187.3L293.0 188.1L293.1 188.8L293.2 189.5L293.3 190.1L293.5 190.8L293.6 191.5L293.7 192.3L293.8 193.1L293.9 193.7L294.0 194.4L294.2 195.0L294.3 195.6L294.4 196.2L294.5 197.1L294.6 197.7L294.8 198.3L294.9 199.1L295.0 199.7L295.1 200.3L295.2 201.0L295.3 201.7L295.4 202.4L295.5 203.0L295.6 203.7L295.7 204.4L295.7 205.0L295.8 205.7L295.9 206.4L296.0 207.0L296.1 207.7L296.1 208.4L296.2 209.0L296.3 209.7L296.4 210.4L296.5 211.1L296.5 211.8L296.6 212.5L296.7 213.1L296.8 213.8L296.8 214.5L296.9 215.2L297.0 215.8L297.1 216.4L297.1 217.2L297.2 217.9L297.3 218.5L297.4 219.2L297.5 219.9L297.6 220.5L297.7 221.2L297.8 221.9L297.9 222.6L298.0 223.3L298.1 223.9L298.2 224.6L298.3 225.3L298.4 226.0L298.5 226.6L298.6 227.4L298.7 228.0L298.8 228.6L298.9 229.3L299.0 230.0L299.1 230.6L299.1 231.2L299.2 232.0L299.3 232.7L299.4 233.3L299.5 234.1L299.6 234.8L299.7 235.4L299.8 236.0L299.9 236.7L300.0 237.5L300.2 238.2L300.3 238.8L300.4 239.4L300.6 240.2L300.7 240.9L300.8 241.6L301.0 242.4L301.1 243.0L301.3 243.6L301.4 244.4L301.5 245.1L301.7 245.9L301.8 246.5L301.9 247.2L302.1 248.0L302.2 248.6L302.4 249.3L302.5 250.1L302.7 250.7L302.8 251.5L302.9 252.1L303.1 252.9L303.2 253.4L303.4 254.3L303.5 254.9L303.7 255.7L303.8 256.4L304.0 257.2L304.1 257.8L304.3 258.6L304.4 259.2L304.6 259.8L304.7 260.5L304.8 261.0L305.0 262.0L305.1 262.5L305.2 263.1L305.3 263.7L305.5 264.7L305.6 265.2L305.8 265.8L305.9 266.4L306.1 267.2L306.3 267.9L306.5 268.7L306.7 269.4L306.9 270.2L307.1 271.0L307.3 271.6L307.5 272.3L307.7 272.9L307.9 273.5L308.1 274.2L308.2 274.9L308.4 275.7L308.6 276.4L308.8 277.0L309.0 277.6L309.2 278.3L309.4 279.0L309.6 279.6L309.9 280.3L310.1 281.0L310.4 281.5L310.6 282.2L310.9 282.7L311.2 283.5L311.4 284.1L311.7 284.6L312.0 285.3L312.3 285.7L312.7 286.3L313.1 287.1L313.4 287.6L313.8 288.2L314.2 289.1L314.5 289.5L314.9 289.8L315.4 290.6L315.9 291.0L316.3 292.1L316.8 292.3L317.3 293.1L317.8 293.6L318.4 293.4L319.0 293.8L319.6 294.6L320.1 295.1L320.7 295.6L321.3 296.2L321.8 296.2L322.4 296.3L322.9 296.9L323.3 296.9L323.8 297.9L324.2 298.4L324.4 299.0" fill="none" stroke="#000" stroke-width="1.35" stroke-linejoin="round"/>
<path d="M45.9 286.4L46.0 286.8L46.2 287.5L46.4 288.3L46.7 289.2L46.9 290.0L47.2 290.8L47.4 291.4L47.6 292.0L47.8 292.5L48.0 293.1L48.2 294.1L48.5 294.8L48.7 295.3L48.9 296.0L49.3 296.9L49.6 297.4L50.0 297.6L50.3 298.6L50.7 299.1L51.2 299.5L51.8 300.2L52.4 300.4L52.9 300.3L53.5 301.0L54.2 301.5L55.0 300.9L55.6 300.6L56.2 300.5L56.9 300.7L57.6 301.5L58.4 301.1L59.2 300.9L60.0 301.1L60.7 301.1L61.4 301.2L62.1 301.0L62.9 301.0L63.7 300.8L64.4 300.9L65.1 301.0L65.8 300.6L66.3 300.9L67.2 300.0L67.9 300.2L68.4 299.2L68.9 298.6L69.4 298.3L69.8 297.5L70.2 296.8L70.6 296.1L70.9 295.9L71.2 295.3L71.4 294.6L71.7 294.1L72.0 293.3L72.2 292.7L72.4 292.2L72.5 291.5L72.7 291.0L72.9 290.1L73.1 289.5L73.3 288.7L73.5 288.0L73.6 287.3L73.8 286.6L73.9 286.0L74.1 285.5L74.3 284.9L74.4 284.3L74.6 283.5L74.8 282.8L74.9 281.9L75.1 281.2L75.3 280.5L75.4 279.8L75.6 279.2L75.7 278.5L75.9 277.8L76.0 277.1L76.2 276.5L76.3 275.9L76.5 275.1L76.6 274.4L76.8 273.8L76.9 273.2L77.1 272.4L77.2 271.6L77.4 271.1L77.5 270.3L77.7 269.6L77.8 269.0L77.9 268.3L78.1 267.6L78.3 266.9L78.4 266.1L78.6 265.4L78.8 264.7L78.9 264.0L79.1 263.2L79.2 262.4L79.4 261.6L79.5 261.1L79.7 260.3L79.8 259.9L79.9 259.4L80.0 259.0L80.2 258.0L80.3 257.5L80.4 257.3L80.7 255.9L80.8 255.6L80.9 255.0L81.0 254.4L81.2 253.8L81.3 253.3L81.5 252.5L81.6 251.8L81.8 251.2L81.9 250.4L82.1 249.5L82.3 248.8L82.4 248.1L82.6 247.4L82.8 246.5L82.9 245.8L83.1 244.9L83.3 244.2L83.4 243.5L83.5 242.8L83.7 242.2L83.8 241.6L84.0 240.9L84.1 240.2L84.3 239.5L84.4 238.8L84.5 238.2L84.7 237.5L84.8 236.8L85.0 236.1L85.1 235.5L85.2 234.7L85.4 234.0L85.5 233.4L85.7 232.6L85.8 232.0L85.9 231.3L86.1 230.6L86.2 230.0L86.4 229.2L86.5 228.5L86.6 227.8L86.8 227.2L86.9 226.5L87.1 225.9L87.2 225.2L87.3 224.4L87.5 223.8L87.6 223.0L87.8 222.3L87.9 221.7L88.1 221.2L88.2 220.4L88.4 219.9L88.6 219.0L88.8 218.4L89.0 217.6L89.2 217.0L89.5 216.2L89.7 215.5L89.9 214.9L90.1 214.0L90.4 213.4L90.6 213.0L90.8 212.3L91.1 211.8L91.3 211.2L91.5 210.5L91.8 209.9L92.1 209.0L92.4 208.4L92.7 207.9L93.0 207.2L93.3 206.7L93.6 206.1L93.9 205.5L94.2 204.8L94.6 204.2L95.0 203.7L95.5 203.2L95.9 202.4L96.4 201.6L96.9 201.2L97.4 201.0L97.8 200.1L98.3 200.2L98.8 199.9L99.4 198.9L100.0 199.1L100.5 198.7L101.1 198.1L101.7 197.7L102.3 197.3L103.0 197.6L103.6 197.3L104.3 197.9L104.9 197.4L105.6 197.8L106.3 198.4L107.0 198.6L107.6 198.9L108.2 199.7L108.8 200.0L109.4 200.0L109.9 200.1L110.4 200.8L110.9 200.9L111.4 201.6L112.0 201.6L112.6 202.2L113.2 202.9L113.8 202.7L114.4 203.0L115.0 203.1L115.6 203.3L116.2 204.2L116.8 204.3L117.4 204.6L118.1 204.6L118.7 205.5L119.3 205.9L119.8 206.6L120.3 207.3L121.1 208.0L121.7 208.2L122.4 208.3L122.9 208.7L123.5 208.5L124.1 207.8L124.7 207.4L125.5 206.6L126.0 206.0L126.5 205.4L127.1 205.5L127.7 205.3L128.3 204.6L128.9 204.6L129.5 204.6L130.1 204.1L130.7 203.5L131.3 203.5L131.9 203.1L132.4 202.4L133.0 201.5L133.6 201.7L134.2 201.8L134.7 201.2L135.3 200.8L135.9 200.3L136.5 200.2L137.1 199.7L137.7 199.5L138.3 199.2L138.9 198.8L139.5 198.6L140.1 197.8L140.6 197.0L141.1 197.1L141.8 197.6L142.4 197.2L142.9 196.3L143.4 195.9L143.9 195.4L144.5 195.2L145.1 194.9L145.7 194.5L146.4 194.6L147.0 194.2L147.6 194.2L148.3 194.0L149.0 193.1L149.7 192.8L150.4 192.8L151.1 192.7L151.8 192.7L152.5 192.6L153.2 192.7L153.9 193.0L154.6 193.1L155.2 193.4L155.9 193.8L156.5 194.5L157.1 194.3L157.7 194.6L158.2 194.9L158.7 195.1L159.3 195.3L159.8 195.8L160.3 196.4L160.9 196.7L161.4 197.3L162.0 197.9L162.5 198.8L163.1 199.2L163.7 199.7L164.3 200.1L164.9 200.7L165.6 200.8L166.2 201.0L166.8 201.7L167.4 201.9L168.0 201.6L168.7 202.1L169.3 202.4L169.9 202.3L170.5 202.5L171.2 203.1L171.9 203.2L172.7 203.1L173.4 203.0L174.1 203.6L174.8 203.5L175.5 203.7L176.3 203.3L177.0 203.2L177.7 203.3L178.4 202.4L179.1 202.2L179.9 202.5L180.6 202.7L181.3 202.6L182.0 203.2L182.7 203.0L183.5 203.2L184.2 203.0L184.9 203.5L185.6 203.4L186.3 204.2L187.1 204.0L187.8 204.5L188.5 204.4L189.2 205.2L189.9 204.7L190.7 204.5L191.4 205.3L192.1 205.2L192.8 205.2L193.5 205.5L194.3 206.4L195.0 206.0L195.7 205.9L196.3 206.3L196.9 206.4L197.5 206.8L198.2 206.7L198.8 207.4L199.4 207.7L200.0 207.5L200.6 208.1L201.2 208.1L201.8 208.5L202.4 208.4L203.0 209.1L203.6 209.7L204.2 209.6L204.8 210.2L205.4 210.6L206.0 211.0L206.6 211.2L207.2 211.6L207.7 212.2L208.3 213.1L208.9 213.4L209.5 213.6L210.1 214.1L210.6 214.6L211.2 214.8L211.8 215.3L212.5 215.2L213.2 215.9L213.9 216.6L214.7 216.2L215.4 216.7L216.1 216.6L216.9 216.7L217.6 217.4L218.3 217.3L219.1 217.4L219.8 216.5L220.5 216.1L221.2 215.5L221.8 215.4L222.3 214.5L222.9 214.2L223.5 213.8L224.1 213.9L224.7 213.4L225.2 212.9L225.8 212.5L226.4 211.7L227.1 211.9L227.7 211.6L228.3 211.1L228.9 210.7L229.5 210.5L230.1 209.8L230.7 209.3L231.4 209.3L232.0 209.6L232.6 209.2L233.3 208.6L233.9 208.2L234.6 208.1L235.2 207.8L235.8 207.7L236.4 207.1L237.0 206.6L237.6 205.9L238.2 206.0L238.7 206.2L239.3 205.5L240.0 205.4L240.5 204.9L241.0 205.0L241.6 204.8L242.2 204.4L242.8 203.7L243.4 203.3L244.0 202.9L244.6 202.3L245.2 202.1L245.8 201.9L246.5 201.7L247.1 201.2L247.8 200.7L248.4 200.5L249.1 199.9L249.7 200.0L250.4 199.8L251.1 199.7L251.8 199.6L252.5 198.4L253.2 198.5L253.8 198.0L254.5 198.1L255.1 198.3L255.6 197.9L256.4 197.4L257.0 196.6L257.5 196.3L258.2 196.1L258.7 196.8L259.3 196.9L260.0 196.6L260.6 197.0L261.2 197.6L261.9 198.0L262.6 197.9L263.3 198.0L264.0 197.4L264.7 197.6L265.4 197.7L266.0 197.6L266.8 197.8L267.4 198.9L268.0 199.8L268.6 199.7L269.1 199.6L269.6 198.8L270.2 197.9L270.7 197.5L271.2 197.4L271.6 196.8L272.1 196.0L272.5 195.3L273.0 194.8L273.4 194.2L273.8 193.3L274.3 192.8L274.7 192.4L275.1 191.9L275.5 191.1L276.0 190.6L276.3 189.8L276.6 189.2L276.9 188.5L277.2 187.9L277.5 187.1L277.8 186.5L278.1 185.7L278.4 184.9L278.7 184.2L279.0 183.6L279.3 183.2L279.6 182.5L279.8 181.7L280.1 181.2L280.4 180.4L280.7 179.7L280.9 179.2L281.2 178.5L281.4 177.9L281.7 177.3L282.0 176.7L282.3 176.2L282.5 175.6L282.8 174.8L283.1 174.1L283.4 173.3L283.6 172.8L283.9 172.4L284.1 171.9L284.5 171.4L284.8 170.6L285.1 169.9L285.5 169.4L285.8 169.1L286.3 168.5L286.8 167.5L287.3 167.0L287.8 166.9L288.7 166.7L289.5 166.4L290.1 166.8L290.7 167.1L291.3 167.7L291.7 168.0L292.2 168.4L292.6 169.2L293.1 169.8L293.5 170.6L293.8 171.1L294.1 171.7L294.3 172.1L294.6 172.9L294.9 173.6L295.2 174.5L295.4 175.1L295.7 175.7L295.9 176.4L296.2 177.0L296.5 177.5L296.7 178.3L297.0 179.2L297.3 179.8L297.5 180.5L297.7 181.2L297.9 181.6L298.1 182.4L298.3 182.9L298.4 183.7L298.6 184.5L298.8 185.2L299.0 185.9L299.1 186.4L299.3 187.2L299.5 188.0L299.6 188.8L299.8 189.3L299.9 189.9L300.1 190.7L300.2 191.2L300.4 192.0L300.5 192.7L300.7 193.4L300.8 194.1L301.0 194.7L301.1 195.4L301.3 196.0L301.4 196.6L301.5 197.3L301.7 198.0L301.8 198.7L302.0 199.4L302.1 200.0L302.3 200.6L302.4 201.2L302.6 202.0L302.7 202.6L302.9 203.3L303.0 203.9L303.2 204.5L303.3 205.2L303.4 205.9L303.6 206.6L303.7 207.2L303.8 207.9L304.0 208.6L304.1 209.3L304.2 209.8L304.3 210.5L304.5 211.2L304.6 211.9L304.7 212.6L304.9 213.3L305.0 214.0L305.1 214.7L305.3 215.4L305.4 216.1L305.5 216.7L305.7 217.3L305.8 218.0L306.0 218.8L306.1 219.5L306.3 220.2L306.4 220.9L306.6 221.6L306.7 222.4L306.9 222.9L307.0 223.7L307.1 224.4L307.3 225.0L307.4 225.7L307.6 226.4L307.7 227.1L307.8 227.8L308.0 228.5L308.1 229.1L308.2 229.8L308.4 230.4L308.5 231.1L308.7 231.8L308.8 232.5L309.0 233.2L309.1 233.8L309.3 234.5L309.4 235.3L309.6 235.8L309.7 236.5L309.9 237.4L310.0 238.1L310.2 238.7L310.4 239.4L310.5 239.8L310.7 240.6L310.8 241.2L311.0 241.8L311.1 242.5L311.3 243.3L311.5 243.8L311.6 244.4L311.8 245.2L312.0 245.9L312.2 246.6L312.3 247.4L312.5 248.0L312.7 248.5L312.8 249.3L313.0 249.9L313.2 250.4L313.3 251.1L313.5 251.9L313.7 252.4L313.9 253.2L314.1 254.0L314.3 254.9L314.5 255.6L314.7 256.2L314.9 256.9L315.1 257.5L315.3 257.9L315.5 258.6L315.6 259.0L315.8 260.0L316.0 260.5L316.1 261.2L316.3 261.8L316.5 262.4L316.7 262.9L316.9 263.8L317.1 264.4L317.3 265.1L317.5 265.8L317.8 266.6L318.0 267.1L318.3 267.8L318.5 268.4L318.8 269.0L319.0 269.6L319.3 270.2L319.6 271.0L319.9 271.4L320.2 272.0L320.4 272.4L320.7 273.3L321.0 273.9L321.2 274.7L321.5 275.7L321.8 276.1L322.1 276.7L322.3 277.3L322.6 277.7L322.8 278.5L323.2 279.3L323.6 279.7L323.9 280.4L324.2 281.0L324.4 280.8" fill="none" stroke="#ff00ff" stroke-width="1.35" stroke-linejoin="round"/>
<rect x="45.70" y="3.90" width="279.15" height="302.50" fill="none" stroke="#0a0a0a" stroke-width="1.15"/>
<line x1="45.70" y1="306.40" x2="45.70" y2="301.60" stroke="#000" stroke-width="1"/>
<line x1="64.31" y1="306.40" x2="64.31" y2="303.60" stroke="#000" stroke-width="1"/>
<line x1="82.92" y1="306.40" x2="82.92" y2="303.60" stroke="#000" stroke-width="1"/>
<line x1="101.53" y1="306.40" x2="101.53" y2="303.60" stroke="#000" stroke-width="1"/>
<line x1="120.14" y1="306.40" x2="120.14" y2="303.60" stroke="#000" stroke-width="1"/>
<line x1="138.75" y1="306.40" x2="138.75" y2="301.60" stroke="#000" stroke-width="1"/>
<line x1="157.36" y1="306.40" x2="157.36" y2="303.60" stroke="#000" stroke-width="1"/>
<line x1="175.97" y1="306.40" x2="175.97" y2="303.60" stroke="#000" stroke-width="1"/>
<line x1="194.58" y1="306.40" x2="194.58" y2="303.60" stroke="#000" stroke-width="1"/>
<line x1="213.19" y1="306.40" x2="213.19" y2="303.60" stroke="#000" stroke-width="1"/>
<line x1="231.80" y1="306.40" x2="231.80" y2="301.60" stroke="#000" stroke-width="1"/>
<line x1="250.41" y1="306.40" x2="250.41" y2="303.60" stroke="#000" stroke-width="1"/>
<line x1="269.02" y1="306.40" x2="269.02" y2="303.60" stroke="#000" stroke-width="1"/>
<line x1="287.63" y1="306.40" x2="287.63" y2="303.60" stroke="#000" stroke-width="1"/>
<line x1="306.24" y1="306.40" x2="306.24" y2="303.60" stroke="#000" stroke-width="1"/>
<line x1="324.85" y1="306.40" x2="324.85" y2="301.60" stroke="#000" stroke-width="1"/>
<line x1="45.70" y1="302.10" x2="50.50" y2="302.10" stroke="#000" stroke-width="1"/>
<line x1="45.70" y1="216.90" x2="50.50" y2="216.90" stroke="#000" stroke-width="1"/>
<line x1="45.70" y1="131.70" x2="50.50" y2="131.70" stroke="#000" stroke-width="1"/>
<line x1="45.70" y1="46.50" x2="50.50" y2="46.50" stroke="#000" stroke-width="1"/>
<text x="45.9" y="325.0" font-size="17.6" text-anchor="middle">8.5</text>
<text x="138.7" y="325.0" font-size="17.6" text-anchor="middle">9.0</text>
<text x="232.0" y="325.0" font-size="17.6" text-anchor="middle">9.5</text>
<text x="325.4" y="325.0" font-size="17.6" text-anchor="middle" textLength="32.3">10.0</text>
<text x="41.4" y="307.1" font-size="17.6" text-anchor="end">0</text>
<text x="41.4" y="221.9" font-size="17.6" text-anchor="end">1</text>
<text x="41.4" y="136.7" font-size="17.6" text-anchor="end">2</text>
<text x="41.4" y="51.5" font-size="17.6" text-anchor="end">3</text>
<g transform="translate(159.3,352.9) scale(1,1.09)"><text x="0" y="0" font-size="22.5">B [T]</text></g>
<g transform="translate(20.6,201.9) rotate(-90)"><g transform="scale(1,1.06)"><text x="-0.7" y="0" font-size="22.4">R</text></g><text x="14.9" y="8.6" font-size="13.1">xx</text><text x="34.1" y="-0.9" font-size="22.4">[k&#937;]</text></g>
<text x="51.0" y="38.2" font-family="Liberation Serif" font-size="17" textLength="6.2" lengthAdjust="spacingAndGlyphs" style="font-family:'Liberation Serif',serif">&#957;</text><text x="57.3" y="38.4" font-size="13">=</text><text x="65.2" y="38.3" font-size="15">2/5</text>
<text x="109.9" y="39.0" font-size="15.3">5/13</text>
<text x="156.4" y="39.0" font-size="15.3">3/8</text>
<text x="206.7" y="39.0" font-size="15.3" textLength="28.1">4/11</text>
<text x="261.6" y="39.0" font-size="15.3">6/17</text>
<rect x="51.5" y="50.5" width="60" height="95" fill="#fff" stroke="#858585" stroke-width="1"/>
<text x="72.3" y="71.5" font-size="12.3">T[mK]</text>
<line x1="57.4" y1="82.70" x2="86.2" y2="82.70" stroke="#ff00ff" stroke-width="1.25"/>
<text x="89.3" y="87.0" font-size="12.4">51</text>
<line x1="57.4" y1="98.23" x2="86.2" y2="98.23" stroke="#000" stroke-width="1.25"/>
<text x="89.3" y="102.5" font-size="12.4">25</text>
<line x1="57.4" y1="113.76" x2="86.2" y2="113.76" stroke="#ff0000" stroke-width="1.25"/>
<text x="90.0" y="118.1" font-size="12.4">15</text>
<line x1="57.4" y1="129.29" x2="86.2" y2="129.29" stroke="#0000ff" stroke-width="1.25"/>
<text x="85.9" y="133.6" font-size="12.4">6.9</text>
</svg></body></html>
